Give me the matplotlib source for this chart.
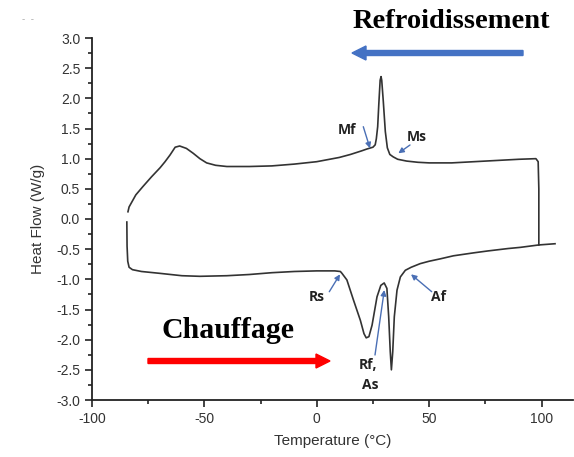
import matplotlib
matplotlib.use("Agg")
import matplotlib.pyplot as plt
from matplotlib.ticker import MultipleLocator
from matplotlib.patches import FancyArrow, FancyArrowPatch

# Cooling curve (upper branch)
cool_x = [98.8, 98.8, 98.5, 97.5, 90, 80, 70, 60, 50, 45, 40, 36, 34, 32.5, 31.4, 30.5, 29.6, 28.9, 28.6, 28.2,
          27.6, 27.1, 26.5, 26.0, 25.0, 22.3, 20, 15, 10, 0, -10, -20, -30, -40, -45, -49, -52, -55, -58,
          -61, -63, -65.3, -67.5, -69.7, -73.5, -77.3, -80.5, -83.5, -84]
cool_y = [-0.43, 0.5, 0.95, 1.0, 0.99, 0.97, 0.95, 0.93, 0.93, 0.94, 0.96, 0.99, 1.03, 1.07, 1.18, 1.45, 1.95, 2.3, 2.36, 2.3,
          1.9, 1.53, 1.33, 1.23, 1.19, 1.16, 1.13, 1.07, 1.02, 0.95, 0.91, 0.88, 0.87, 0.87, 0.89, 0.93, 1.0, 1.09, 1.17,
          1.21, 1.19, 1.06, 0.95, 0.85, 0.7, 0.54, 0.4, 0.2, 0.12]

# Heating curve (lower branch)
heat_x = [-84.5, -84.4, -84.1, -83.5, -82, -78, -70, -60, -52, -40, -30, -20, -10, 0, 5, 8, 10.5, 11.2, 13.4,
          16.3, 19.4, 21, 22, 23.2, 24.6, 26.8, 28.5, 30.0, 31.2, 32.0, 32.7, 33.2, 33.8, 34.5, 35.7, 37.2, 39.4,
          42, 46, 50, 55, 60.8, 70, 76, 85, 90.6, 98.8, 106]
heat_y = [-0.05, -0.45, -0.7, -0.8, -0.84, -0.87, -0.9, -0.94, -0.95, -0.94, -0.92, -0.89, -0.87, -0.86, -0.86, -0.86, -0.87, -0.9, -1.01,
          -1.34, -1.68, -1.9, -1.97, -1.95, -1.76, -1.29, -1.1, -1.06, -1.15, -1.62, -2.2, -2.5, -2.2, -1.62, -1.18, -0.96, -0.85,
          -0.8, -0.74, -0.7, -0.66, -0.61, -0.56, -0.53, -0.49, -0.47, -0.43, -0.41]

x_ticks = [-100, -50, 0, 50, 100]
y_ticks = [-3.0, -2.5, -2.0, -1.5, -1.0, -0.5, 0.0, 0.5, 1.0, 1.5, 2.0, 2.5, 3.0]

plt.rcParams['font.family'] = ['Liberation Sans', 'DejaVu Sans']
plt.rcParams['axes.unicode_minus'] = False

fig = plt.figure(figsize=(5.74, 4.57), dpi=100)
ax = fig.add_axes([92/574, 1-400/457, (573-92)/574, (400-38)/457])

ax.plot(cool_x, cool_y, color='#333333', lw=1.2)
ax.plot(heat_x, heat_y, color='#333333', lw=1.2)

ax.set_xlim(-100, 114)
ax.set_ylim(-3.0, 3.0)
ax.set_xticks(x_ticks)
ax.set_yticks(y_ticks)
ax.set_yticklabels([f"{v:.1f}" for v in y_ticks])
ax.xaxis.set_minor_locator(MultipleLocator(25))
ax.yaxis.set_minor_locator(MultipleLocator(0.25))
for s in ['top', 'right']:
    ax.spines[s].set_visible(False)
for s in ['left', 'bottom']:
    ax.spines[s].set_linewidth(1.3)
    ax.spines[s].set_color('#222222')
ax.tick_params(which='major', direction='out', length=5, width=1.2, labelsize=10, colors='#222222', labelcolor='#333333')
ax.tick_params(which='minor', direction='out', length=3, width=1.2, colors='#222222')

ax.set_xlabel('Temperature (°C)', fontsize=11, color='#333333', labelpad=6)
ax.set_ylabel('Heat Flow (W/g)', fontsize=11, color='#333333', labelpad=8)

# Big titles with arrows
fig.text(451/574, 1-22/457, 'Refroidissement', family=['Liberation Serif'], fontweight='bold',
         fontsize=20.5, ha='center', va='center', color='black')
fig.text(228/574, 1-330/457, 'Chauffage', family=['Liberation Serif'], fontweight='bold',
         fontsize=21.5, ha='center', va='center', color='black')
fig.patches.append(FancyArrow(523/574, 1-53/457, -(523-352)/574 + 14/574, 0, width=5/457,
                   head_width=14/457, head_length=14/574, length_includes_head=False, color='#4472C4',
                   transform=fig.transFigure, figure=fig))
fig.patches.append(FancyArrow(148/574, 1-361/457, (330-148)/574 - 14/574, 0, width=5/457,
                   head_width=14/457, head_length=14/574, length_includes_head=False, color='#FF0000',
                   transform=fig.transFigure, figure=fig))

# Point labels
def px(xp, yp):
    return (xp/574, 1-yp/457)
lab_kw = dict(fontsize=10, fontweight='bold', color='#222222', ha='center', va='center',
              family=['Open Sans', 'DejaVu Sans'])
labels = [('Mf', (346.7, 130)), ('Ms', (416.7, 136.7)), ('Rs', (316.7, 296.7)),
          ('Af', (438.3, 296.7)), ('Rf,', (368.3, 365)), ('As', (370, 385))]
for t, (xp, yp) in labels:
    fig.text(*px(xp, yp), t, **lab_kw)
arrows = [((363.3, 126.7), (370, 148.3)), ((410, 145), (398.3, 153.3)),
          ((329.3, 291.7), (340, 274.3)), ((431.7, 291.7), (411, 274.3)),
          ((375, 355), (384.3, 290))]
for (a, b) in arrows:
    fig.patches.append(FancyArrowPatch(px(*a), px(*b), transform=fig.transFigure, arrowstyle='-|>',
                       mutation_scale=8, color='#4a6fb5', lw=1.0, shrinkA=0, shrinkB=0, figure=fig))

fig.text(28/574, 1-19/457, '-  -', fontsize=7, color='#aaaaaa', ha='center', va='center')

fig.savefig('out.png', dpi=100)
